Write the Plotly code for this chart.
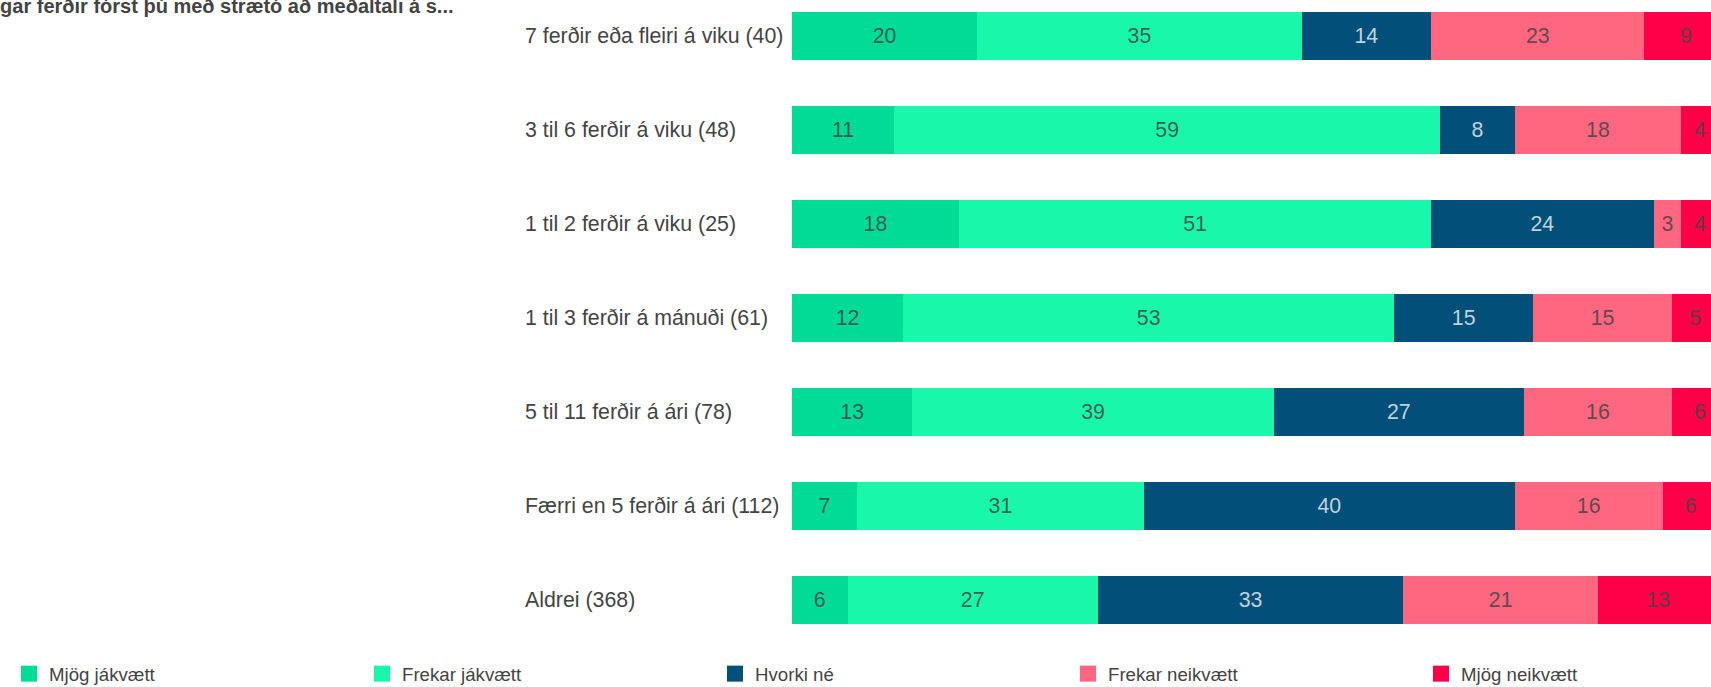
import plotly.graph_objects as go

# flokkar (efst til neðst)
categories = [
    "7 ferðir eða fleiri á viku (40)",
    "3 til 6 ferðir á viku (48)",
    "1 til 2 ferðir á viku (25)",
    "1 til 3 ferðir á mánuði (61)",
    "5 til 11 ferðir á ári (78)",
    "Færri en 5 ferðir á ári (112)",
    "Aldrei (368)",
]

mjog_jakvaett = [20, 11, 18, 12, 13, 7, 6]
frekar_jakvaett = [35, 59, 51, 53, 39, 31, 27]
hvorki_ne = [14, 8, 24, 15, 27, 40, 33]
frekar_neikvaett = [23, 18, 3, 15, 16, 16, 21]
mjog_neikvaett = [9, 4, 4, 5, 6, 6, 13]

series_names = ["Mjög jákvætt", "Frekar jákvætt", "Hvorki né", "Frekar neikvætt", "Mjög neikvætt"]
series_values = [mjog_jakvaett, frekar_jakvaett, hvorki_ne, frekar_neikvaett, mjog_neikvaett]
colors = ["#00DC96", "#19F8AA", "#02507A", "#FF667F", "#FF0048"]
text_colors = ["rgba(68,68,68,0.85)", "rgba(68,68,68,0.85)", "rgba(255,255,255,0.75)",
               "rgba(68,68,68,0.85)", "rgba(68,68,68,0.85)"]

title_text = "Hversu margar ferðir fórst þú með strætó að meðaltali á s..."

FONT = "Arial, Liberation Sans, sans-serif"
W, H = 1711, 687
ML, MB = 792, 40
plot_w = W - ML
plot_h = H - MB

fig = go.Figure()

for name, vals, col, tcol in zip(series_names, series_values, colors, text_colors):
    fig.add_trace(go.Bar(
        y=categories, x=vals, name=name, orientation="h",
        marker=dict(color=col, line=dict(width=0)),
        width=0.51,
        text=vals, textposition="inside", insidetextanchor="middle",
        textangle=0, constraintext="none",
        textfont=dict(family=FONT, size=21.33, color=tcol),
        hoverinfo="x+name", showlegend=False, legendgroup=name,
    ))

# legend með stærri ferningum
for i, (name, col) in enumerate(zip(series_names, colors)):
    fig.add_trace(go.Scatter(
        x=[None], y=[None], mode="markers", name=name, legendgroup=name,
        marker=dict(symbol="square", size=16, color=col),
        legendwidth=308 if i < len(series_names) - 1 else 150,
        showlegend=True,
    ))

# flokkaheiti vinstri jöfnuð
for c in categories:
    fig.add_annotation(
        x=(523 - ML) / plot_w, xref="paper", xanchor="left",
        y=c, yref="y", yanchor="middle",
        text=c, showarrow=False,
        font=dict(family=FONT, size=21.33, color="#444"),
    )

fig.add_annotation(
    x=(456 - ML) / plot_w, xref="paper", xanchor="right",
    y=1 - 6.5 / plot_h, yref="paper", yanchor="middle",
    text="<b>" + title_text + "</b>", showarrow=False,
    font=dict(family=FONT, size=20, color="#444"),
)

fig.update_layout(
    width=W, height=H,
    barmode="stack",
    bargap=0.49,
    plot_bgcolor="white", paper_bgcolor="white",
    margin=dict(l=ML, r=0, t=0, b=MB, pad=0, autoexpand=False),
    xaxis=dict(range=[0, 99.2], showgrid=False, zeroline=False,
               showticklabels=False, showline=False, fixedrange=True),
    yaxis=dict(type="category", categoryorder="array", categoryarray=categories,
               range=[(plot_h - 36) / 94.03, -36 / 94.03],
               showgrid=False, zeroline=False, showticklabels=False,
               showline=False, fixedrange=True),
    legend=dict(orientation="h", x=(9 - ML) / plot_w, xref="paper", xanchor="left",
                y=-(655 - plot_h) / plot_h, yref="paper", yanchor="top",
                entrywidthmode="pixels",
                font=dict(family=FONT, size=18.67, color="#444"),
                itemclick=False, itemdoubleclick=False),
    showlegend=True,
)

fig.write_html("out.html", config={"displayModeBar": False},
               post_script="document.body.style.margin='0px';")
